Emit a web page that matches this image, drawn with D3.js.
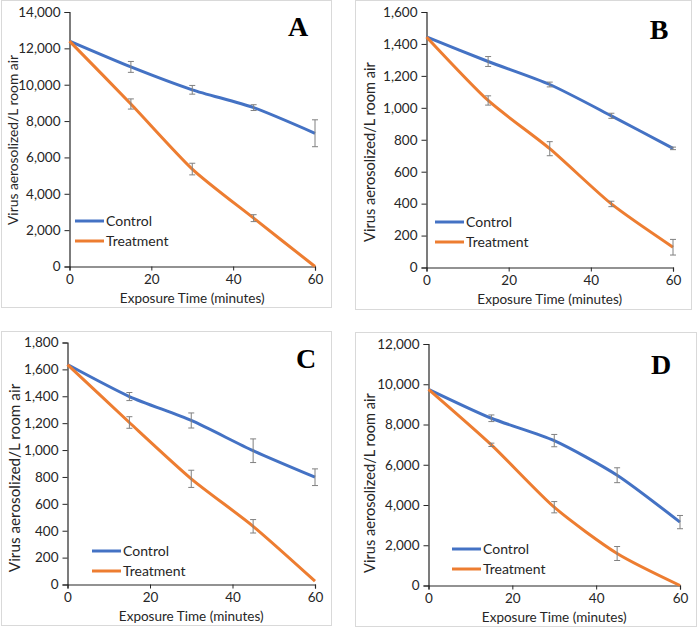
<!DOCTYPE html>
<html>
<head>
<meta charset="utf-8">
<script src="https://cdn.jsdelivr.net/npm/d3@7"></script>
<style>
body { margin: 0; background: white; }
svg { display: block; }
</style>
</head>
<body>
<svg id="chart" width="698" height="627"></svg>
<script>
// exposure times (minutes)
var times = [0, 15, 30, 45, 60]
var seriesNames = ['Control', 'Treatment']

// panel A
var aControl = [12400, 10980, 9720, 8740, 7330]
var aControlErr = [0, 300, 240, 160, 740]
var aTreatment = [12400, 8940, 5360, 2660, 0]
var aTreatmentErr = [0, 280, 320, 190, 0]
var aTicks = [0, 2000, 4000, 6000, 8000, 10000, 12000, 14000]

// panel B
var bControl = [1444, 1290, 1146, 950, 746]
var bControlErr = [0, 31, 15, 16, 8]
var bTreatment = [1444, 1046, 744, 398, 127]
var bTreatmentErr = [0, 29, 44, 17, 49]
var bTicks = [0, 200, 400, 600, 800, 1000, 1200, 1400, 1600]

// panel C
var cControl = [1636, 1398, 1220, 995, 798]
var cControlErr = [0, 30, 56, 88, 62]
var cTreatment = [1636, 1205, 786, 433, 25]
var cTreatmentErr = [0, 43, 64, 50, 0]
var cTicks = [0, 200, 400, 600, 800, 1000, 1200, 1400, 1600, 1800]

// panel D
var dControl = [9750, 8310, 7200, 5480, 3150]
var dControlErr = [0, 165, 306, 370, 330]
var dTreatment = [9750, 6990, 3890, 1590, 0]
var dTreatmentErr = [0, 83, 280, 347, 0]
var dTicks = [0, 2000, 4000, 6000, 8000, 10000, 12000]

var xTicks = [0, 20, 40, 60]
var colors = {Control: '#4472c4', Treatment: '#ed7d31'}
var font = 'Lato, "Open Sans", sans-serif'

var panels = [
	{letter: 'A', control: aControl, controlErr: aControlErr, treatment: aTreatment, treatmentErr: aTreatmentErr, ticks: aTicks,
		box: [1.5, 0.5, 330, 307], plot: [69.5, 12, 315, 266.5], legend: [75, 221], tag: [298, 36], ylab: [17.5, 140, 13.8]},
	{letter: 'B', control: bControl, controlErr: bControlErr, treatment: bTreatment, treatmentErr: bTreatmentErr, ticks: bTicks,
		box: [355.5, 0.5, 336, 309], plot: [426.5, 12, 673, 267.5], legend: [435, 222], tag: [659, 39], ylab: [374.5, 152, 14.6]},
	{letter: 'C', control: cControl, controlErr: cControlErr, treatment: cTreatment, treatmentErr: cTreatmentErr, ticks: cTicks,
		box: [1.5, 331.5, 330, 294], plot: [67.5, 342.5, 315, 584.5], legend: [92, 551], tag: [306, 368], ylab: [20, 478, 15.3]},
	{letter: 'D', control: dControl, controlErr: dControlErr, treatment: dTreatment, treatmentErr: dTreatmentErr, ticks: dTicks,
		box: [355.5, 332.5, 341, 294], plot: [428.5, 344, 680, 585.5], legend: [452, 549], tag: [661, 374], ylab: [374.5, 483, 14.6]}
]

var svg = d3.select('#chart')

panels.forEach(function(p) {
	var g = svg.append('g')

	g.append('rect')
		.attr('x', p.box[0]).attr('y', p.box[1])
		.attr('width', p.box[2]).attr('height', p.box[3])
		.attr('fill', 'white')
		.attr('stroke', '#d9d9d9')
		.attr('stroke-width', 1)

	var x = d3.scaleLinear().domain([0, 60]).range([p.plot[0], p.plot[2]])
	var y = d3.scaleLinear().domain([0, d3.max(p.ticks)]).range([p.plot[3], p.plot[1]])

	var yAxis = g.append('g')
		.attr('transform', 'translate(' + p.plot[0] + ',0)')
		.call(d3.axisLeft(y).tickValues(p.ticks).tickFormat(d3.format(',')).tickSize(5).tickPadding(4))
	var xAxis = g.append('g')
		.attr('transform', 'translate(0,' + p.plot[3] + ')')
		.call(d3.axisBottom(x).tickValues(xTicks).tickSize(4).tickPadding(4))
	;[yAxis, xAxis].forEach(function(ax) {
		ax.select('.domain').attr('stroke', '#262626').attr('stroke-width', 1.2)
		ax.selectAll('.tick line').attr('stroke', '#262626')
		ax.selectAll('.tick text')
			.attr('fill', '#262626')
			.style('font-size', '13.5px')
			.style('font-family', font)
	})

	g.append('text')
		.text('Exposure Time (minutes)')
		.attr('x', (p.plot[0] + p.plot[2]) / 2)
		.attr('y', p.plot[3] + 36)
		.attr('text-anchor', 'middle')
		.attr('fill', '#262626')
		.style('font-size', '13.5px')
		.style('font-family', font)

	g.append('text')
		.text('Virus aerosolized/L room air')
		.attr('transform', 'translate(' + p.ylab[0] + ',' + p.ylab[1] + ') rotate(-90)')
		.attr('text-anchor', 'middle')
		.attr('fill', '#262626')
		.style('font-size', p.ylab[2] + 'px')
		.style('font-family', font)

	var series = [
		{name: 'Control', values: p.control, err: p.controlErr},
		{name: 'Treatment', values: p.treatment, err: p.treatmentErr}
	]

	var line = d3.line()
		.x(function(d, i) { return x(times[i]) })
		.y(function(d) { return y(d) })
		.curve(d3.curveCardinal.tension(0.3))

	series.forEach(function(s) {
		g.append('path')
			.datum(s.values)
			.attr('d', line)
			.attr('fill', 'none')
			.attr('stroke', colors[s.name])
			.attr('stroke-width', 3)
	})

	// error bars drawn on top
	series.forEach(function(s) {
		var bars = g.selectAll(null)
			.data(s.values.map(function(v, i) { return {t: times[i], v: v, e: s.err[i]} }).filter(function(d) { return d.e > 0 }))
			.enter()
			.append('g')
			.attr('stroke', '#808080')
			.attr('stroke-width', 1)
		bars.append('line')
			.attr('x1', function(d) { return x(d.t) }).attr('x2', function(d) { return x(d.t) })
			.attr('y1', function(d) { return y(d.v - d.e) }).attr('y2', function(d) { return y(d.v + d.e) })
		bars.append('line')
			.attr('x1', function(d) { return x(d.t) - 3 }).attr('x2', function(d) { return x(d.t) + 3 })
			.attr('y1', function(d) { return y(d.v - d.e) }).attr('y2', function(d) { return y(d.v - d.e) })
		bars.append('line')
			.attr('x1', function(d) { return x(d.t) - 3 }).attr('x2', function(d) { return x(d.t) + 3 })
			.attr('y1', function(d) { return y(d.v + d.e) }).attr('y2', function(d) { return y(d.v + d.e) })
	})

	var legend = g.selectAll('.legend')
		.data(seriesNames)
		.enter()
		.append('g')
		.attr('transform', function(d, i) { return 'translate(' + p.legend[0] + ',' + (p.legend[1] + i * 20) + ')' })
	legend.append('line')
		.attr('x1', 0).attr('x2', 29)
		.attr('stroke', function(d) { return colors[d] })
		.attr('stroke-width', 3)
	legend.append('text')
		.text(function(d) { return d })
		.attr('x', 31)
		.attr('dy', '0.35em')
		.attr('fill', '#262626')
		.style('font-size', '14px')
		.style('font-family', font)

	g.append('text')
		.text(p.letter)
		.attr('x', p.tag[0])
		.attr('y', p.tag[1])
		.attr('text-anchor', 'middle')
		.attr('fill', 'black')
		.style('font-size', '28px')
		.style('font-weight', 'bold')
		.style('font-family', '"Liberation Serif", "Times New Roman", serif')
})
</script>
</body>
</html>
